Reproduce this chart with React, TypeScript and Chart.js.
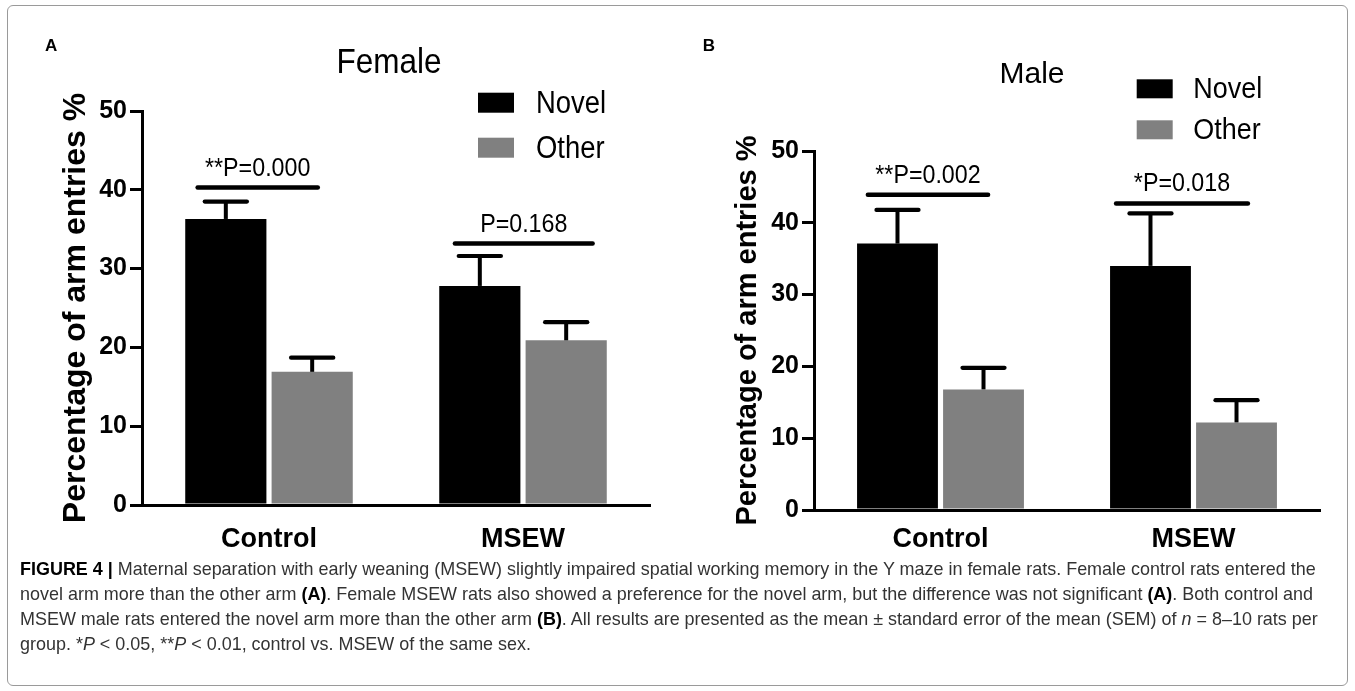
import React, { useEffect, useRef } from 'react';
import { Chart, registerables } from 'chart.js';

Chart.register(...registerables);

const FONT = "'Liberation Sans', Arial, Helvetica, sans-serif";

// ---------- data ----------
const categories = ['Control', 'MSEW'];
const seriesLabels = ['Novel', 'Other'];
const yTicks = [0, 10, 20, 30, 40, 50];
const yAxisLabel = 'Percentage of arm entries %';

const femaleNovel = [36.3, 27.8];
const femaleOther = [16.9, 20.9];
const femaleNovelSem = [2.2, 3.8];
const femaleOtherSem = [1.8, 2.3];
const femaleSigText = ['**P=0.000', 'P=0.168'];
const femaleSigLevel = [40.3, 33.2];

const maleNovel = [37.1, 34.0];
const maleOther = [16.8, 12.2];
const maleNovelSem = [4.7, 7.3];
const maleOtherSem = [3.0, 3.1];
const maleSigText = ['**P=0.002', '*P=0.018'];
const maleSigLevel = [43.9, 42.7];

// ---------- styles ----------
const seriesColors = ['#000000', '#808080'];

type PanelCfg = {
  letter: string;
  title: string;
  novel: number[];
  other: number[];
  sems: number[][];
  sigText: string[];
  sigLevel: number[];
  left: number;
  w: number;
  h: number;
  yWidth: number;
  padTop: number;
  padRight: number;
  padBottom: number;
  xHeight: number;
  xLabelPad: number;
  axisTitleSize: number;
  axisTitlePad: number;
  titleX: number;
  titleBase: number;
  titleSize: number;
  titleScale: number;
  boxX: number;
  boxW: number;
  boxH: number;
  boxBottoms: number[];
  legendTextX: number;
  legendSize: number;
  legendScale: number;
  letterX: number;
  letterBase: number;
  sigSpans: number[][];
  sigGap: number;
  sigSize: number;
  sigScale: number;
};

const panels: PanelCfg[] = [
  {
    letter: 'A',
    title: 'Female',
    novel: femaleNovel,
    other: femaleOther,
    sems: [femaleNovelSem, femaleOtherSem],
    sigText: femaleSigText,
    sigLevel: femaleSigLevel,
    left: 0,
    w: 677,
    h: 570,
    yWidth: 142,
    padTop: 111,
    padRight: 27,
    padBottom: 15,
    xHeight: 50,
    xLabelPad: 18,
    axisTitleSize: 32,
    axisTitlePad: 57,
    titleX: 389,
    titleBase: 73.3,
    titleSize: 35,
    titleScale: 0.9,
    boxX: 478,
    boxW: 36,
    boxH: 20,
    boxBottoms: [112.7, 157.7],
    legendTextX: 536,
    legendSize: 31,
    legendScale: 0.885,
    letterX: 45,
    letterBase: 51,
    sigSpans: [
      [-0.281, 0.192],
      [-0.268, 0.274],
    ],
    sigGap: 11,
    sigSize: 25,
    sigScale: 0.93,
  },
  {
    letter: 'B',
    title: 'Male',
    novel: maleNovel,
    other: maleOther,
    sems: [maleNovelSem, maleOtherSem],
    sigText: maleSigText,
    sigLevel: maleSigLevel,
    left: 677,
    w: 678,
    h: 570,
    yWidth: 137,
    padTop: 151,
    padRight: 35,
    padBottom: 10,
    xHeight: 50,
    xLabelPad: 13,
    axisTitleSize: 29,
    axisTitlePad: 54,
    titleX: 1032,
    titleBase: 83.3,
    titleSize: 30,
    titleScale: 1.0,
    boxX: 1136.7,
    boxW: 36,
    boxH: 19,
    boxBottoms: [98.3, 139.3],
    legendTextX: 1193.3,
    legendSize: 29,
    legendScale: 0.93,
    letterX: 702.7,
    letterBase: 51,
    sigSpans: [
      [-0.287, 0.188],
      [-0.306, 0.215],
    ],
    sigGap: 12,
    sigSize: 25,
    sigScale: 0.93,
  },
];

function drawScaledText(
  ctx: CanvasRenderingContext2D,
  text: string,
  x: number,
  baseline: number,
  font: string,
  align: 'left' | 'center',
  sx: number,
  color = '#000'
) {
  ctx.save();
  ctx.font = font;
  ctx.fillStyle = color;
  ctx.textBaseline = 'alphabetic';
  ctx.textAlign = 'left';
  ctx.translate(x, baseline);
  ctx.scale(sx, 1);
  const w = ctx.measureText(text).width;
  ctx.fillText(text, align === 'center' ? -w / 2 : 0, 0);
  ctx.restore();
}

function makePlugin(cfg: PanelCfg) {
  const off = cfg.left;
  return {
    id: 'panelDecor',
    afterDatasetsDraw(chart: any) {
      const ctx: CanvasRenderingContext2D = chart.ctx;
      const xs = chart.scales.x;
      const ys = chart.scales.y;
      ctx.save();
      ctx.strokeStyle = '#000';
      // error bars
      chart.data.datasets.forEach((ds: any, di: number) => {
        const meta = chart.getDatasetMeta(di);
        meta.data.forEach((bar: any, i: number) => {
          const p = bar.getProps(['x', 'y', 'width'], true);
          const topY = ys.getPixelForValue(ds.data[i] + cfg.sems[di][i]);
          const capHalf = p.width * 0.26;
          ctx.lineWidth = 4;
          ctx.lineCap = 'butt';
          ctx.beginPath();
          ctx.moveTo(p.x, p.y);
          ctx.lineTo(p.x, topY);
          ctx.stroke();
          ctx.lineCap = 'round';
          ctx.lineWidth = 4.2;
          ctx.beginPath();
          ctx.moveTo(p.x - capHalf, topY);
          ctx.lineTo(p.x + capHalf, topY);
          ctx.stroke();
        });
      });
      // significance lines
      const catW = xs.width / categories.length;
      categories.forEach((_c, i) => {
        const cx = xs.getPixelForValue(i);
        const x1 = cx + cfg.sigSpans[i][0] * catW;
        const x2 = cx + cfg.sigSpans[i][1] * catW;
        const y = ys.getPixelForValue(cfg.sigLevel[i]);
        ctx.lineWidth = 4.5;
        ctx.lineCap = 'round';
        ctx.beginPath();
        ctx.moveTo(x1, y);
        ctx.lineTo(x2, y);
        ctx.stroke();
        drawScaledText(
          ctx,
          cfg.sigText[i],
          (x1 + x2) / 2,
          y - cfg.sigGap,
          `${cfg.sigSize}px ${FONT}`,
          'center',
          cfg.sigScale
        );
      });
      ctx.restore();
    },
    afterDraw(chart: any) {
      const ctx: CanvasRenderingContext2D = chart.ctx;
      // panel letter
      drawScaledText(ctx, cfg.letter, cfg.letterX - off, cfg.letterBase, `bold 17px ${FONT}`, 'left', 1);
      // title
      drawScaledText(
        ctx,
        cfg.title,
        cfg.titleX - off,
        cfg.titleBase,
        `${cfg.titleSize}px ${FONT}`,
        'center',
        cfg.titleScale
      );
      // legend
      chart.data.datasets.forEach((ds: any, di: number) => {
        const bottom = cfg.boxBottoms[di];
        ctx.save();
        ctx.fillStyle = ds.backgroundColor;
        ctx.fillRect(cfg.boxX - off, bottom - cfg.boxH, cfg.boxW, cfg.boxH);
        ctx.restore();
        drawScaledText(
          ctx,
          ds.label,
          cfg.legendTextX - off,
          bottom,
          `${cfg.legendSize}px ${FONT}`,
          'left',
          cfg.legendScale
        );
      });
    },
  };
}

function Panel({ cfg }: { cfg: PanelCfg }) {
  const ref = useRef<HTMLCanvasElement>(null);
  useEffect(() => {
    const chart = new Chart(ref.current as HTMLCanvasElement, {
      type: 'bar',
      data: {
        labels: categories,
        datasets: [
          {
            label: seriesLabels[0],
            data: cfg.novel,
            backgroundColor: seriesColors[0],
            borderWidth: 0,
            categoryPercentage: 0.68,
            barPercentage: 0.94,
          },
          {
            label: seriesLabels[1],
            data: cfg.other,
            backgroundColor: seriesColors[1],
            borderWidth: 0,
            categoryPercentage: 0.68,
            barPercentage: 0.94,
          },
        ],
      },
      options: {
        responsive: false,
        animation: false,
        events: [],
        layout: {
          padding: { left: 0, top: cfg.padTop, right: cfg.padRight, bottom: cfg.padBottom },
        },
        plugins: {
          legend: { display: false },
          tooltip: { enabled: false },
          title: { display: false },
        },
        scales: {
          x: {
            type: 'category',
            grid: { display: false, drawTicks: false },
            border: { display: true, color: '#000', width: 3 },
            ticks: {
              color: '#000',
              font: { family: FONT, size: 27, weight: 'bold' },
              padding: cfg.xLabelPad,
            },
            afterFit: (s: any) => {
              s.height = cfg.xHeight;
            },
          },
          y: {
            min: 0,
            max: 50,
            afterBuildTicks: (s: any) => {
              s.ticks = yTicks.map((v) => ({ value: v }));
            },
            grid: {
              display: true,
              drawOnChartArea: false,
              drawTicks: true,
              tickLength: 12,
              lineWidth: 3,
              color: '#000',
            },
            border: { display: true, color: '#000', width: 3 },
            ticks: {
              color: '#000',
              font: { family: FONT, size: 25, weight: 'bold' },
              padding: 3,
            },
            title: {
              display: true,
              text: yAxisLabel,
              color: '#000',
              font: { family: FONT, size: cfg.axisTitleSize, weight: 'bold' },
              padding: { top: cfg.axisTitlePad, bottom: 0 },
            },
            afterFit: (s: any) => {
              s.width = cfg.yWidth;
            },
          },
        },
      },
      plugins: [makePlugin(cfg)],
    } as any);
    return () => chart.destroy();
  }, [cfg]);
  return (
    <canvas
      ref={ref}
      width={cfg.w}
      height={cfg.h}
      style={{ position: 'absolute', left: cfg.left, top: 0, width: cfg.w, height: cfg.h }}
    />
  );
}

export default function App() {
  const capStyle: React.CSSProperties = {
    position: 'absolute',
    left: 20,
    top: 556,
    fontFamily: FONT,
    fontSize: 19,
    lineHeight: '25px',
    color: '#333',
    whiteSpace: 'nowrap',
    transformOrigin: '0 0',
    transform: 'scaleX(0.945)',
  };
  return (
    <div
      style={{
        position: 'absolute',
        left: 0,
        top: 0,
        width: 1355,
        height: 691,
        background: '#fff',
        overflow: 'hidden',
      }}
    >
      <div
        style={{
          position: 'absolute',
          left: 7,
          top: 5,
          width: 1341,
          height: 681,
          border: '1.5px solid #9a9a9a',
          borderRadius: 6,
          boxSizing: 'border-box',
        }}
      />
      {panels.map((p) => (
        <Panel key={p.letter} cfg={p} />
      ))}
      <div style={capStyle}>
        <div>
          <b style={{ color: '#000' }}>FIGURE 4 |</b> Maternal separation with early weaning (MSEW) slightly impaired
          spatial working memory in the Y maze in female rats. Female control rats entered the
        </div>
        <div>
          novel arm more than the other arm <b style={{ color: '#000' }}>(A)</b>. Female MSEW rats also showed a
          preference for the novel arm, but the difference was not significant <b style={{ color: '#000' }}>(A)</b>. Both
          control and
        </div>
        <div>
          MSEW male rats entered the novel arm more than the other arm <b style={{ color: '#000' }}>(B)</b>. All results
          are presented as the mean ± standard error of the mean (SEM) of <i>n</i> = 8–10 rats per
        </div>
        <div>
          group. *<i>P</i> &lt; 0.05, **<i>P</i> &lt; 0.01, control vs. MSEW of the same sex.
        </div>
      </div>
    </div>
  );
}
